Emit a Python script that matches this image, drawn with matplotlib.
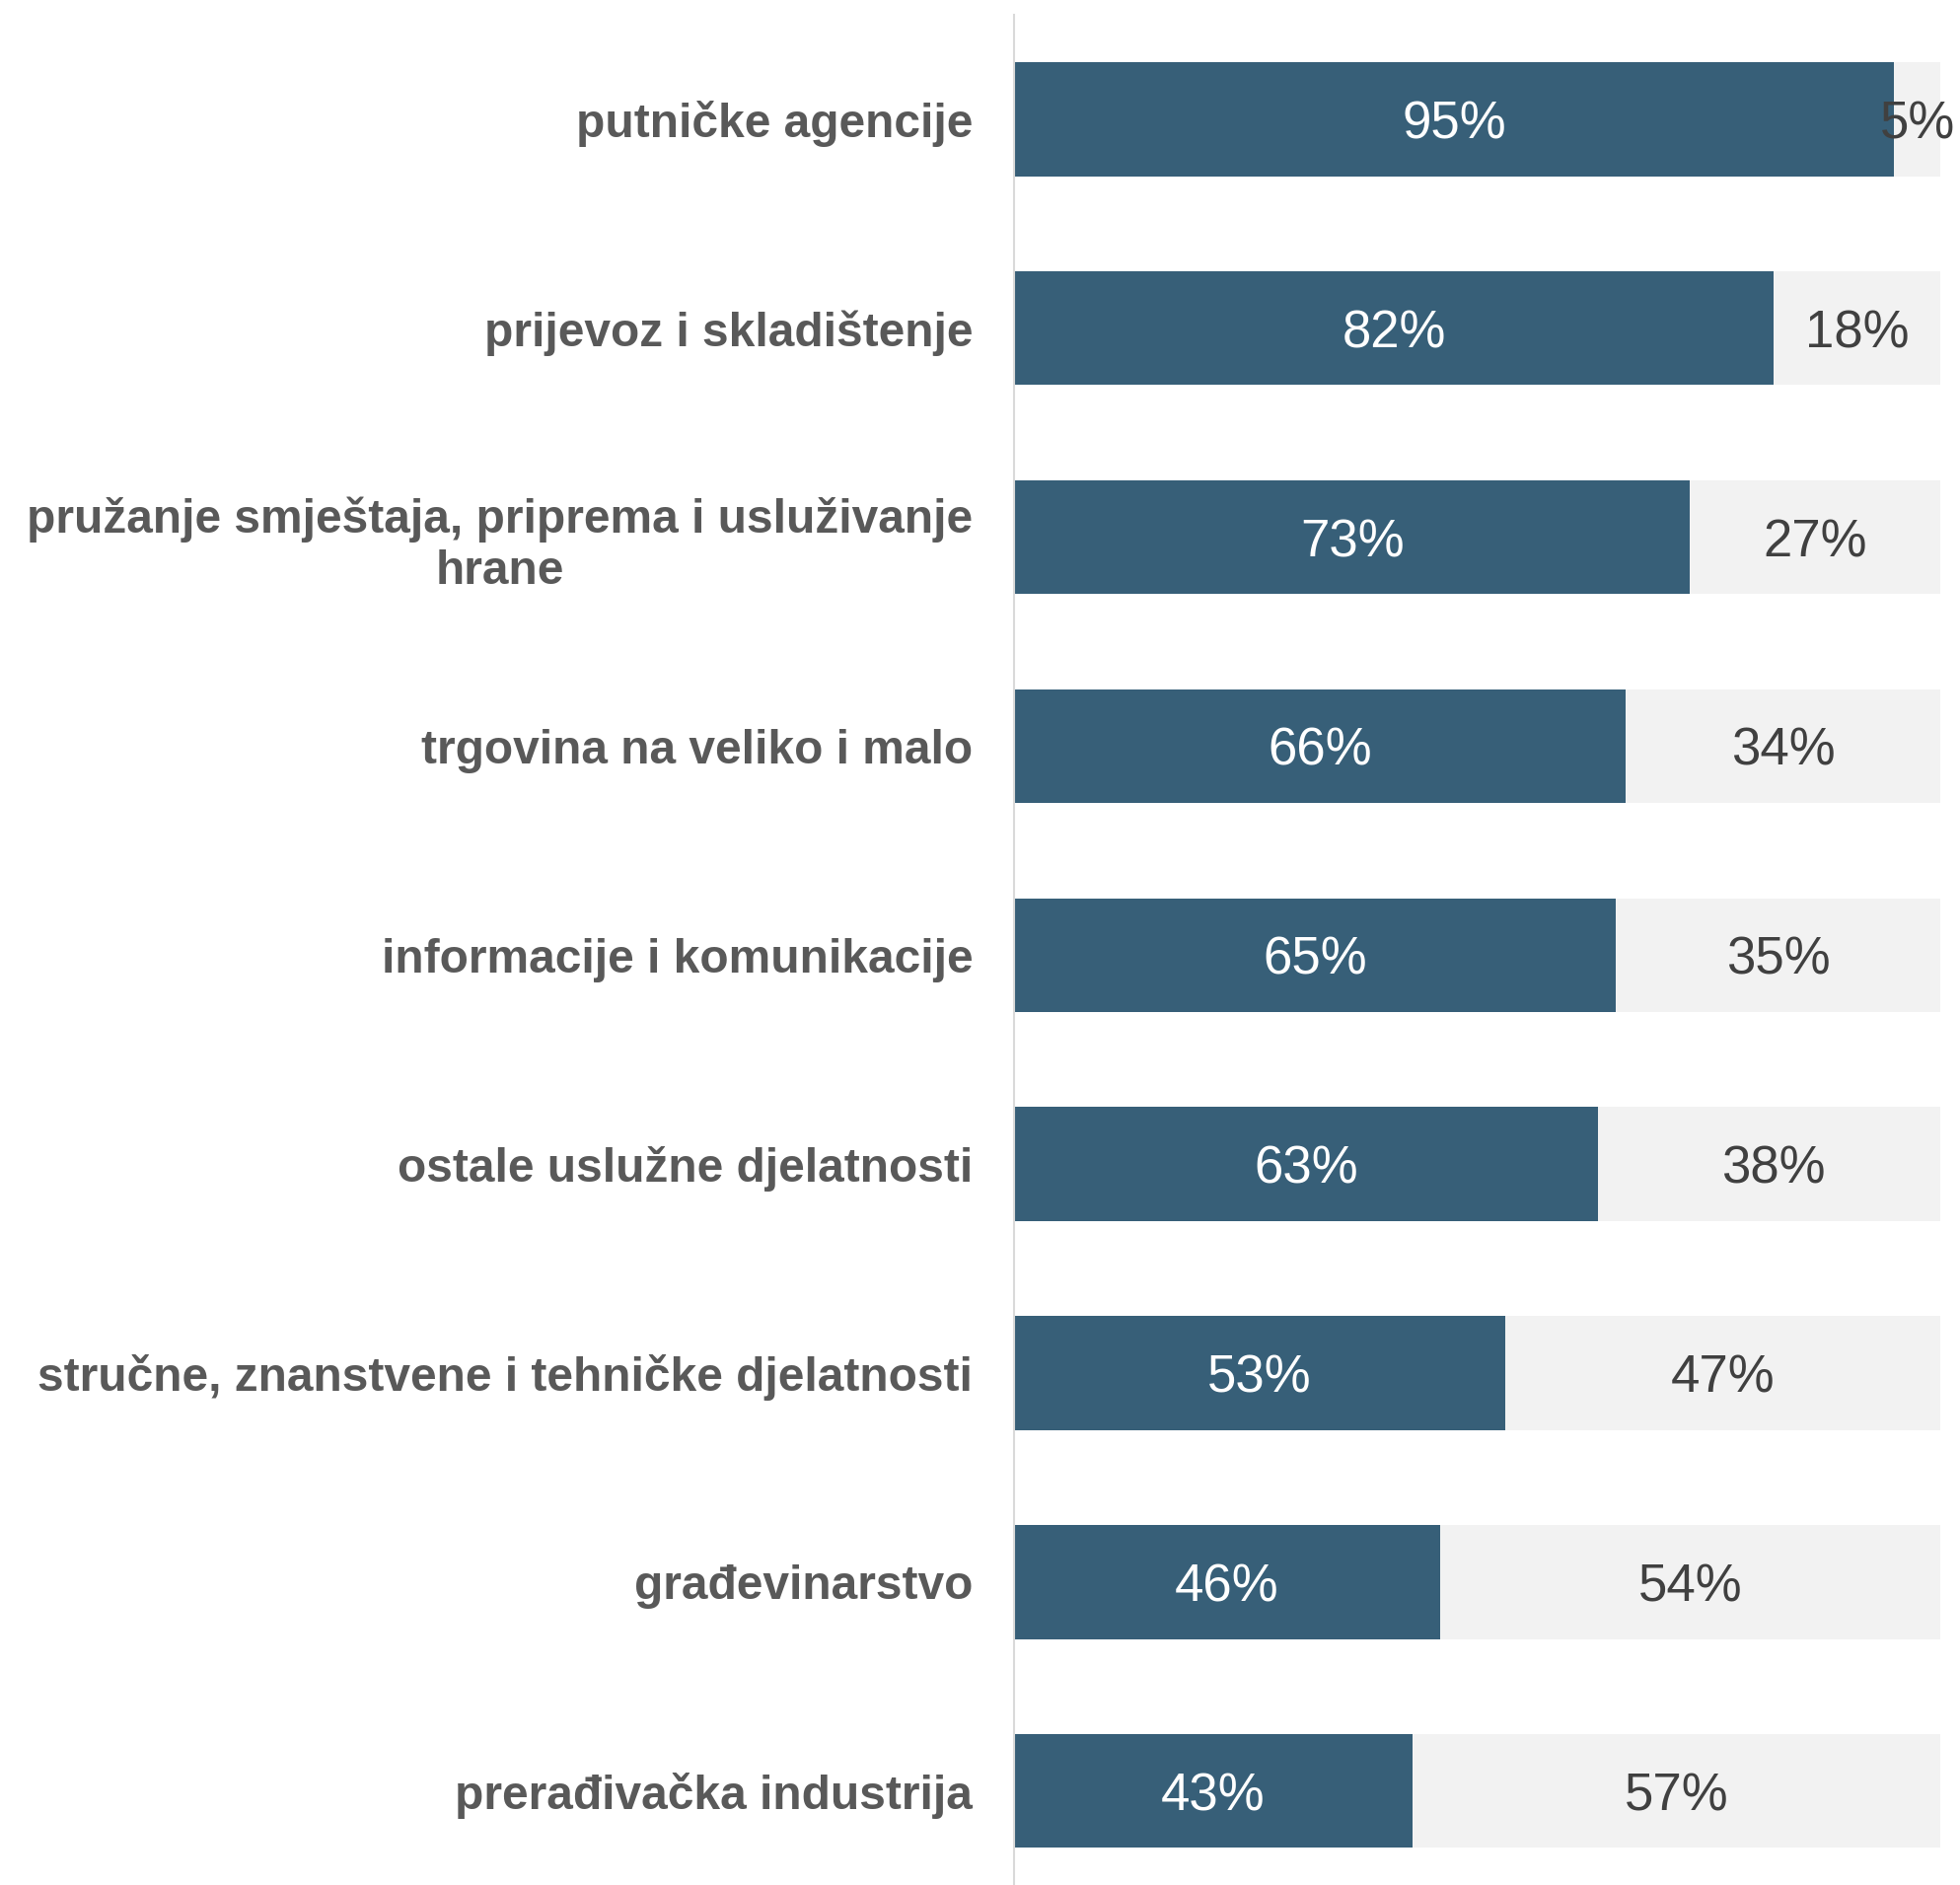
import matplotlib.pyplot as plt

plt.rcParams['font.family'] = ['Liberation Sans', 'DejaVu Sans']

categories = [
    'putničke agencije',
    'prijevoz i skladištenje',
    'pružanje smještaja, priprema i usluživanje\nhrane',
    'trgovina na veliko i malo',
    'informacije i komunikacije',
    'ostale uslužne djelatnosti',
    'stručne, znanstvene i tehničke djelatnosti',
    'građevinarstvo',
    'prerađivačka industrija',
]
yes_share = [95, 82, 73, 66, 65, 63, 53, 46, 43]
no_share = [5, 18, 27, 34, 35, 38, 47, 54, 57]

dark = '#375f78'
light = '#f2f2f2'

fig = plt.figure(figsize=(19.87, 19.11), dpi=100)
ax = fig.add_axes([1028 / 1987, 0.0, 939 / 1987, 1 - 15 / 1911])

pos = list(range(len(categories)))
ax.barh(pos, yes_share, height=0.545, color=dark)
ax.barh(pos, no_share, left=yes_share, height=0.545, color=light)

for y, a, b in zip(pos, yes_share, no_share):
    ax.text(a / 2, y, f'{a}%', ha='center', va='center_baseline', color='white', fontsize=38)
    ax.text(a + b / 2, y, f'{b}%', ha='center', va='center_baseline', color='#404040', fontsize=38)

ax.set_xlim(0, 100)
ax.set_ylim(8.45, -0.5)
ax.set_yticks(pos)
ax.set_yticklabels(categories, fontsize=34.5, fontweight='bold', color='#595959', linespacing=1.2)
for t in ax.get_yticklabels():
    t.set_multialignment('center')
ax.tick_params(axis='y', length=0, pad=30)
ax.set_xticks([])

for s in ['top', 'right', 'bottom']:
    ax.spines[s].set_visible(False)
ax.spines['left'].set_color('#d9d9d9')
ax.spines['left'].set_linewidth(1.5)

fig.savefig('out.png', dpi=100)
